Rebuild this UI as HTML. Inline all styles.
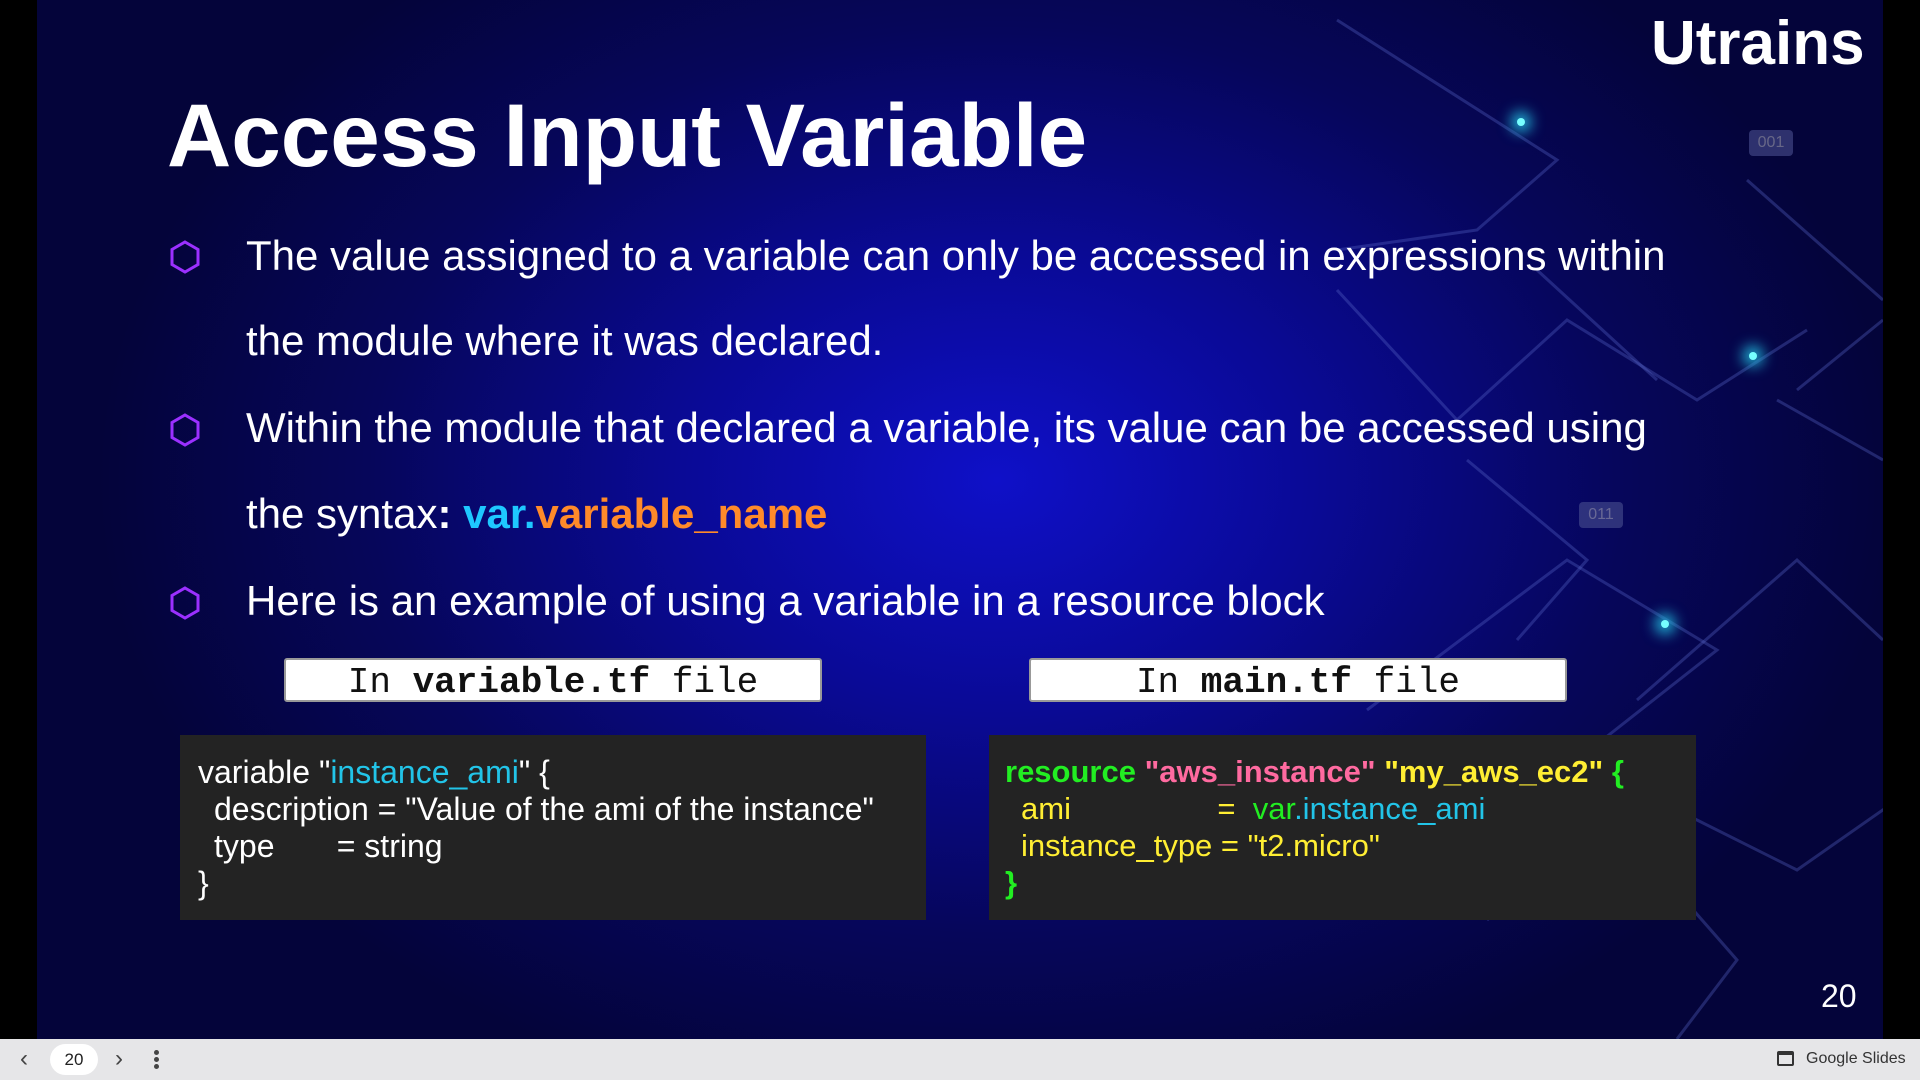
<!DOCTYPE html>
<html><head><meta charset="utf-8"><style>
body{margin:0;width:1920px;height:1080px;overflow:hidden;background:#000;font-family:"Liberation Sans",sans-serif;position:relative}
#slide{position:absolute;left:37px;top:0;width:1846px;height:1039px;background:radial-gradient(ellipse 900px 650px at 960px 480px,#0f10c8 0%,#0a0a96 35%,#06065a 70%,#04043a 100%);overflow:hidden}
.abs{position:absolute;white-space:nowrap}
.b{color:#fff;font-size:42px;left:209px}
.hex{position:absolute;left:132px}
.lbl{position:absolute;background:#fff;border:2px solid #999;border-radius:3px;height:40px;font-family:"Liberation Mono",monospace;font-size:36px;text-align:center;line-height:46px;color:#111}
.code{position:absolute;background:#232323;font-size:32px;color:#fff}
.code div{position:absolute;white-space:pre}
#bar{position:absolute;left:0;top:1039px;width:1920px;height:41px;background:#e6e6e8}
</style></head><body>
<div id="slide">
<svg width="1846" height="1039" style="position:absolute;left:0;top:0" fill="none" stroke="#5a66c8" stroke-opacity=".35" stroke-width="3">
<path d="M1300 20 L1520 160 L1440 230 L1300 250"/>
<path d="M1300 290 L1420 420 L1530 320 L1660 400 L1770 330"/>
<path d="M1710 180 L1846 300"/>
<path d="M1430 460 L1550 560 L1480 640"/>
<path d="M1620 380 L1500 270"/>
<path d="M1760 390 L1846 320 M1740 400 L1846 460"/>
<path d="M1330 710 L1530 560 L1680 650 L1540 760"/>
<path d="M1600 700 L1760 560 L1846 640"/>
<path d="M1640 810 L1760 870 L1860 800"/>
<path d="M1630 880 L1700 960 L1640 1039"/>
<path d="M1450 920 L1500 880"/>
</svg>
<div class="abs" style="left:1480px;top:118px;width:8px;height:8px;border-radius:50%;background:#7ff;box-shadow:0 0 14px 6px #2bd"></div>
<div class="abs" style="left:1712px;top:352px;width:8px;height:8px;border-radius:50%;background:#7ff;box-shadow:0 0 14px 6px #2bd"></div>
<div class="abs" style="left:1624px;top:620px;width:8px;height:8px;border-radius:50%;background:#7ff;box-shadow:0 0 14px 6px #2bd"></div>
<div class="abs" style="left:1712px;top:130px;width:44px;height:26px;background:#4a5090;opacity:.6;border-radius:4px;color:#aab;font-size:16px;text-align:center;line-height:26px">001</div>
<div class="abs" style="left:1542px;top:502px;width:44px;height:26px;background:#4a5090;opacity:.6;border-radius:4px;color:#aab;font-size:16px;text-align:center;line-height:26px">011</div>

<div class="abs" style="left:1614px;top:8px;color:#fff;font-size:62px;font-weight:bold;letter-spacing:0px">Utrains</div>
<div class="abs" style="left:130px;top:84px;color:#fff;font-size:89px;font-weight:bold">Access Input Variable</div>

<svg class="hex" style="top:240px" width="32" height="34"><polygon points="16,2 29,9.5 29,24.5 16,32 3,24.5 3,9.5" fill="none" stroke="#9b30ff" stroke-width="3"/></svg>
<svg class="hex" style="top:413px" width="32" height="34"><polygon points="16,2 29,9.5 29,24.5 16,32 3,24.5 3,9.5" fill="none" stroke="#9b30ff" stroke-width="3"/></svg>
<svg class="hex" style="top:586px" width="32" height="34"><polygon points="16,2 29,9.5 29,24.5 16,32 3,24.5 3,9.5" fill="none" stroke="#9b30ff" stroke-width="3"/></svg>

<div class="abs b" style="top:232px">The value assigned to a variable can only be accessed in expressions within</div>
<div class="abs b" style="top:317px">the module where it was declared.</div>
<div class="abs b" style="top:404px">Within the module that declared a variable, its value can be accessed using</div>
<div class="abs b" style="top:490px">the syntax<b>:</b> <b style="color:#1ec8ff">var.</b><b style="color:#ff8a2a">variable_name</b></div>
<div class="abs b" style="top:577px">Here is an example of using a variable in a resource block</div>

<div class="lbl" style="left:247px;top:658px;width:534px">In <b>variable.tf</b> file</div>
<div class="lbl" style="left:992px;top:658px;width:534px">In <b>main.tf</b> file</div>

<div class="code" style="left:143px;top:735px;width:746px;height:185px">
<div style="left:18px;top:19px">variable "<span style="color:#22c4e8">instance_ami</span>" {</div>
<div style="left:34px;top:56px">description = "Value of the ami of the instance"</div>
<div style="left:34px;top:93px">type       = string</div>
<div style="left:18px;top:130px">}</div>
</div>
<div class="code" style="left:952px;top:735px;width:707px;height:185px;font-size:31px">
<div style="left:16px;top:19px;color:#22ee22;font-weight:bold">resource <span style="color:#ff6aa0">"aws_instance"</span> <span style="color:#ffee33">"my_aws_ec2"</span> {</div>
<div style="left:32px;top:56px;color:#ffee33">ami                 =  <span style="color:#22ee22">var</span><span style="color:#22c4e8">.instance_ami</span></div>
<div style="left:32px;top:93px;color:#ffee33">instance_type = "t2.micro"</div>
<div style="left:16px;top:130px;color:#22ee22;font-weight:bold">}</div>
</div>

<div class="abs" style="left:1784px;top:978px;color:#fff;font-size:32px">20</div>
</div>
<div id="bar">
<div class="abs" style="left:20px;top:6px;font-size:24px;color:#444">‹</div>
<div class="abs" style="left:50px;top:5px;width:48px;height:31px;background:#fff;border-radius:16px;text-align:center;line-height:31px;font-size:17px;color:#222">20</div>
<div class="abs" style="left:115px;top:6px;font-size:24px;color:#444">›</div>
<div class="abs" style="left:154px;top:11px;width:5px;height:5px;border-radius:50%;background:#444;box-shadow:0 7px 0 #444,0 14px 0 #444"></div>
<div class="abs" style="left:1777px;top:12px;width:17px;height:15px;border:2px solid #333;border-radius:2px;box-sizing:border-box;border-top-width:4px"></div>
<div class="abs" style="left:1806px;top:11px;font-size:16px;color:#333">Google Slides</div>
</div>
</body></html>
